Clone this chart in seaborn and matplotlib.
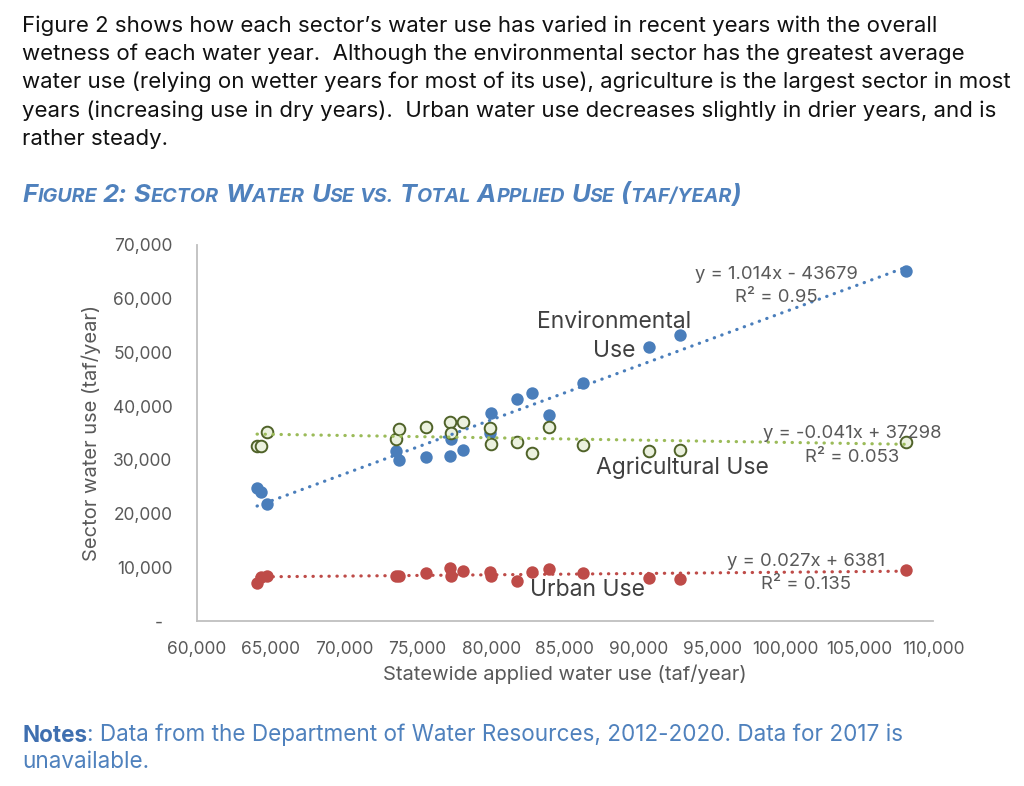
import numpy as np
import pandas as pd
import matplotlib
matplotlib.use("Agg")
import matplotlib.pyplot as plt
import matplotlib.transforms as mtransforms
import seaborn as sns

# Statewide applied water use per year and each sector's use (taf/year)
statewide = [64100, 64350, 64750, 73500, 73750, 75550, 77200, 77300, 78100,
             79900, 80000, 81750, 82750, 83900, 86200, 90700, 92850, 108150]
env_use = [24800, 24000, 21700, 31600, 29900, 30600, 30700, 33900, 31800,
           35000, 38700, 41300, 42500, 38300, 44300, 51100, 53300, 65200]
ag_use = [32500, 32500, 35100, 33800, 35800, 36100, 37000, 35000, 37100,
          35900, 33000, 33300, 31300, 36200, 32800, 31700, 31800, 33300]
urban_use = [7100, 8100, 8300, 8300, 8400, 9000, 9800, 8400, 9300,
             9200, 8400, 7400, 9100, 9600, 9000, 8000, 7800, 9500]

x_ticks = list(range(60000, 110001, 5000))
y_ticks = list(range(0, 70001, 10000))
y_tick_labels = ["-  "] + [f"{v:,}" for v in y_ticks[1:]]

env_eq = ["y = 1.014x - 43679", "R² = 0.95"]
ag_eq = ["y = -0.041x + 37298", "R² = 0.053"]
urban_eq = ["y = 0.027x + 6381", "R² = 0.135"]

paragraph = [
    "Figure 2 shows how each sector\u2019s water use has varied in recent years with the overall",
    "wetness of each water year.  Although the environmental sector has the greatest average",
    "water use (relying on wetter years for most of its use), agriculture is the largest sector in most",
    "years (increasing use in dry years).  Urban water use decreases slightly in drier years, and is",
    "rather steady.",
]

df = pd.DataFrame({"statewide": statewide, "env": env_use,
                   "ag": ag_use, "urban": urban_use})

sns.set_theme(style="white")
plt.rcParams["font.family"] = ["Inter", "DejaVu Sans"]

BLUE = "#4A7EBB"
RED = "#BE4B48"
GREEN_FILL = "#EBF1DE"
GREEN_EDGE = "#4F6228"
GREEN_LINE = "#9BBB59"
GREY = "#595959"
TITLE_BLUE = "#4F81BD"

W, H = 1024, 786
fig = plt.figure(figsize=(W / 100, H / 100), dpi=100)
ax = fig.add_axes([196.7 / W, 1 - 621 / H, (933 - 196.7) / W, (621 - 245) / H])

# scatter points
sns.scatterplot(data=df, x="statewide", y="env", ax=ax, color=BLUE,
                s=80, linewidth=0, zorder=3)
sns.scatterplot(data=df, x="statewide", y="ag", ax=ax, color=GREEN_FILL,
                edgecolor=GREEN_EDGE, s=70, linewidth=1.4, zorder=3)
sns.scatterplot(data=df, x="statewide", y="urban", ax=ax, color=RED,
                s=80, linewidth=0, zorder=3)

# dotted linear trendlines
dot_style = dict(linestyle=(0, (0.1, 2.4)), dash_capstyle="round", lw=2.3, zorder=4)
sns.regplot(data=df, x="statewide", y="env", ax=ax, scatter=False, ci=None,
            line_kws=dict(color=BLUE, **dot_style))
sns.regplot(data=df, x="statewide", y="ag", ax=ax, scatter=False, ci=None,
            line_kws=dict(color=GREEN_LINE, **dot_style))
sns.regplot(data=df, x="statewide", y="urban", ax=ax, scatter=False, ci=None,
            line_kws=dict(color=RED, **dot_style))

ax.set_xlim(60000, 110000)
ax.set_ylim(0, 70000)
ax.set_xticks(x_ticks)
ax.set_xticklabels([f"{v:,}" for v in x_ticks])
ax.set_yticks(y_ticks)
ax.set_yticklabels(y_tick_labels)
ax.tick_params(axis="both", length=0, labelsize=12.5, labelcolor=GREY)
ax.tick_params(axis="x", pad=14.5)
ax.tick_params(axis="y", pad=17.5)
for side in ["top", "right"]:
    ax.spines[side].set_visible(False)
for side in ["left", "bottom"]:
    ax.spines[side].set_color("#BFBFBF")
    ax.spines[side].set_linewidth(1.3)
ax.grid(False)

ax.set_xlabel("Statewide applied water use (taf/year)", fontsize=14.5, color=GREY)
ax.set_ylabel("Sector water use (taf/year)", fontsize=14.5, color=GREY)
ax.xaxis.set_label_coords(0.5, -0.115)
ax.yaxis.set_label_coords(-0.13, 0.5)

# series labels
lab = dict(fontsize=16.5, color="#404040", ha="center", va="baseline", zorder=5)
ax.text(88350, 54600, "Environmental", **lab)
ax.text(88350, 49200, "Use", **lab)
ax.text(92950, 27300, "Agricultural Use", **lab)
ax.text(86500, 4650, "Urban Use", **lab)

# trendline equations
eq = dict(fontsize=13.3, color=GREY, ha="center", va="baseline", zorder=5)
ax.text(99350, 63700, env_eq[0], **eq)
ax.text(99350, 59300, env_eq[1], **eq)
ax.text(104500, 34100, ag_eq[0], **eq)
ax.text(104500, 29650, ag_eq[1], **eq)
ax.text(101350, 10270, urban_eq[0], **eq)
ax.text(101350, 5940, urban_eq[1], **eq)

# paragraph above the figure
pix = mtransforms.IdentityTransform()
for i, line in enumerate(paragraph):
    fig.text(22, H - (31.5 + i * 28.4), line, transform=pix, fontsize=16,
             color="#111111", va="baseline", ha="left")

renderer = fig.canvas.get_renderer()


def text_width(s, **kw):
    t = fig.text(0, 0, s, transform=pix, **kw)
    w = t.get_window_extent(renderer).width
    t.remove()
    return w


def draw_runs(words, x, y, **kw):
    # words: list of words, each a list of (text, size)
    for k, word in enumerate(words):
        if k > 0:
            size = word[0][1]
            x += text_width("x x", fontsize=size, **kw) - text_width("xx", fontsize=size, **kw)
        for s, size in word:
            t = fig.text(x, y, s, transform=pix, fontsize=size, va="baseline",
                         ha="left", **kw)
            x = t.get_window_extent(renderer).x1


# small-caps style title
BIG, SMALL = 18.5, 14.2
title_words = [
    [("F", BIG), ("IGURE", SMALL)],
    [("2:", BIG)],
    [("S", BIG), ("ECTOR", SMALL)],
    [("W", BIG), ("ATER", SMALL)],
    [("U", BIG), ("SE", SMALL)],
    [("VS.", SMALL)],
    [("T", BIG), ("OTAL", SMALL)],
    [("A", BIG), ("PPLIED", SMALL)],
    [("U", BIG), ("SE", SMALL)],
    [("(", BIG), ("TAF/YEAR", SMALL), (")", BIG)],
]
draw_runs(title_words, 22, H - 201.5, color=TITLE_BLUE, fontweight="bold",
          fontstyle="italic")

# notes below the figure
NOTE_SIZE = 16.2
t = fig.text(22, H - 741.5, "Notes", transform=pix, fontsize=NOTE_SIZE,
             fontweight="bold", color="#3F6FB0", va="baseline", ha="left")
x_end = t.get_window_extent(renderer).x1
fig.text(x_end, H - 741.5,
         ": Data from the Department of Water Resources, 2012-2020. Data for 2017 is",
         transform=pix, fontsize=NOTE_SIZE, color="#4F81BD", va="baseline", ha="left")
fig.text(22, H - 768, "unavailable.", transform=pix, fontsize=NOTE_SIZE,
         color="#4F81BD", va="baseline", ha="left")

fig.savefig("out.png", dpi=100)
